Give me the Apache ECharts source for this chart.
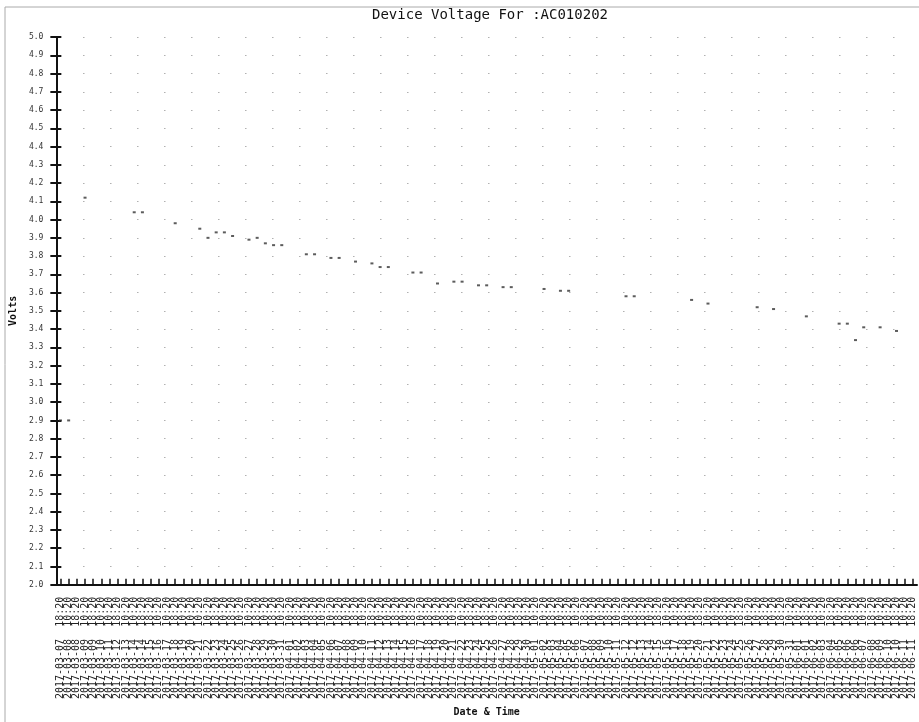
<!DOCTYPE html>
<html>
<head>
<meta charset="utf-8">
<title>Device Voltage For :AC010202</title>
<script src="https://cdn.jsdelivr.net/npm/echarts@6/dist/echarts.min.js"></script>
<style>
    html, body { margin: 0; padding: 0; background: #fff; }
    #main { width: 919px; height: 722px; }
</style>
</head>
<body>
<div id="main"></div>
<script>
// x轴时间标签
var categories = [
    '2017-03-07 18:20', '2017-03-08 10:20', '2017-03-08 18:20', '2017-03-09 10:20', '2017-03-09 18:20',
    '2017-03-10 10:20', '2017-03-11 10:20', '2017-03-12 18:20', '2017-03-13 10:20', '2017-03-14 10:20',
    '2017-03-14 18:20', '2017-03-15 18:20', '2017-03-16 10:20', '2017-03-17 10:20', '2017-03-18 18:20',
    '2017-03-19 10:20', '2017-03-20 10:20', '2017-03-21 10:20', '2017-03-22 10:20', '2017-03-23 18:20',
    '2017-03-24 10:20', '2017-03-25 18:20', '2017-03-26 10:20', '2017-03-27 10:20', '2017-03-28 18:20',
    '2017-03-29 10:20', '2017-03-30 18:20', '2017-03-31 10:20', '2017-04-01 10:20', '2017-04-02 18:20',
    '2017-04-03 10:20', '2017-04-04 18:20', '2017-04-05 10:20', '2017-04-06 10:20', '2017-04-07 18:20',
    '2017-04-08 10:20', '2017-04-09 18:20', '2017-04-10 10:20', '2017-04-11 18:20', '2017-04-12 10:20',
    '2017-04-13 10:20', '2017-04-14 18:20', '2017-04-15 10:20', '2017-04-16 18:20', '2017-04-17 10:20',
    '2017-04-18 18:20', '2017-04-19 10:20', '2017-04-20 18:20', '2017-04-21 10:20', '2017-04-22 10:20',
    '2017-04-23 18:20', '2017-04-24 10:20', '2017-04-25 18:20', '2017-04-26 10:20', '2017-04-27 18:20',
    '2017-04-28 10:20', '2017-04-29 18:20', '2017-04-30 10:20', '2017-05-01 10:20', '2017-05-02 10:20',
    '2017-05-03 18:20', '2017-05-04 10:20', '2017-05-05 18:20', '2017-05-06 10:20', '2017-05-07 18:20',
    '2017-05-08 10:20', '2017-05-09 10:20', '2017-05-10 18:20', '2017-05-11 10:20', '2017-05-12 10:20',
    '2017-05-12 18:20', '2017-05-13 18:20', '2017-05-14 10:20', '2017-05-15 18:20', '2017-05-16 10:20',
    '2017-05-17 10:20', '2017-05-18 18:20', '2017-05-19 10:20', '2017-05-20 18:20', '2017-05-21 10:20',
    '2017-05-22 10:20', '2017-05-23 18:20', '2017-05-24 10:20', '2017-05-25 18:20', '2017-05-26 10:20',
    '2017-05-27 10:20', '2017-05-28 18:20', '2017-05-29 10:20', '2017-05-30 18:20', '2017-05-31 10:20',
    '2017-06-01 10:20', '2017-06-01 18:20', '2017-06-02 18:20', '2017-06-03 10:20', '2017-06-04 18:20',
    '2017-06-05 10:20', '2017-06-06 10:20', '2017-06-06 18:20', '2017-06-07 10:20', '2017-06-08 18:20',
    '2017-06-09 10:20', '2017-06-10 10:20', '2017-06-10 18:20', '2017-06-11 10:20', '2017-06-11 18:20'
];

// 电压读数, '-' 表示图上没有点
var volts = [
    2.90, 2.90, '-', 4.12, '-', '-', '-', '-', '-', 4.04,
    4.04, '-', '-', '-', 3.98, '-', '-', 3.95, 3.90, 3.93,
    3.93, 3.91, '-', 3.89, 3.90, 3.87, 3.86, 3.86, '-', '-',
    3.81, 3.81, '-', 3.79, 3.79, '-', 3.77, '-', 3.76, 3.74,
    3.74, '-', '-', 3.71, 3.71, '-', 3.65, '-', 3.66, 3.66,
    '-', 3.64, 3.64, '-', 3.63, 3.63, '-', '-', '-', 3.62,
    '-', 3.61, 3.61, '-', '-', '-', '-', '-', '-', 3.58,
    3.58, '-', '-', '-', '-', '-', '-', 3.56, '-', 3.54,
    '-', '-', '-', '-', '-', 3.52, '-', 3.51, '-', '-',
    '-', 3.47, '-', '-', '-', 3.43, 3.43, 3.34, 3.41, '-',
    3.41, '-', 3.39, '-', '-'
];

var yMin = 2.0;
var yMax = 5.0;
var yStep = 0.1;

var mono = '"DejaVu Sans Mono", "Liberation Mono", monospace';

var myChart = echarts.init(document.getElementById('main'));

var option = {
    backgroundColor: '#fff',
    animation: false,
    title: {
        text: 'Device Voltage For :AC010202',
        left: 367,
        top: 3,
        textStyle: { fontFamily: mono, fontSize: 14, fontWeight: 'normal', color: '#111' }
    },
    // 扫描件的页边框
    graphic: [
        { type: 'line', shape: { x1: 5, y1: 7, x2: 919, y2: 7 }, style: { stroke: '#aaa', lineWidth: 1 } },
        { type: 'line', shape: { x1: 5, y1: 7, x2: 5, y2: 722 }, style: { stroke: '#aaa', lineWidth: 1 } }
    ],
    grid: {
        left: 56,
        right: 2,
        top: 37,
        bottom: 136
    },
    xAxis: [{
        type: 'category',
        data: categories,
        boundaryGap: true,
        name: 'Date & Time',
        nameLocation: 'middle',
        nameGap: 120,
        nameTextStyle: { fontFamily: mono, fontSize: 10, fontWeight: 'bold', color: '#111' },
        axisLine: { lineStyle: { color: '#111', width: 2 } },
        axisTick: { alignWithLabel: true, interval: 0, length: 6, lineStyle: { color: '#111', width: 1.5 } },
        axisLabel: {
            interval: 0,
            rotate: 90,
            margin: 12,
            fontFamily: mono,
            fontSize: 10,
            color: '#222',
            formatter: function (v) { return v.replace(' ', '  '); }
        },
        splitLine: { show: false }
    }, {
        // 轴线内侧的刻度
        type: 'category',
        show: true,
        data: categories,
        position: 'bottom',
        offset: 0,
        boundaryGap: true,
        axisLine: { show: true, lineStyle: { color: 'rgba(0,0,0,0)' } },
        axisTick: { show: true, inside: true, alignWithLabel: true, interval: 0, length: 6, lineStyle: { color: '#111', width: 1.5 } },
        axisLabel: { show: false },
        splitLine: { show: false }
    }],
    yAxis: [{
        type: 'value',
        min: yMin,
        max: yMax,
        interval: yStep,
        name: 'Volts',
        nameLocation: 'middle',
        nameGap: 24,
        nameTextStyle: { fontFamily: mono, fontSize: 10, fontWeight: 'bold', color: '#111' },
        axisLine: { show: true, lineStyle: { color: '#111', width: 2 } },
        axisTick: { show: true, length: 6, lineStyle: { color: '#111', width: 2 } },
        axisLabel: {
            margin: 13,
            fontFamily: mono,
            fontSize: 8,
            color: '#333',
            formatter: function (v) { return v.toFixed(1); }
        },
        splitLine: { show: true, lineStyle: { color: '#888', width: 1, type: [1, 26] } }
    }, {
        type: 'value',
        min: yMin,
        max: yMax,
        interval: yStep,
        position: 'left',
        axisLine: { show: true, lineStyle: { color: 'rgba(0,0,0,0)' } },
        axisTick: { show: true, inside: true, length: 5, lineStyle: { color: '#111', width: 2 } },
        axisLabel: { show: false },
        splitLine: { show: false }
    }],
    series: [{
        name: 'Volts',
        type: 'scatter',
        xAxisIndex: 0,
        yAxisIndex: 0,
        symbol: 'rect',
        symbolSize: [3, 2],
        itemStyle: { color: '#333' },
        data: volts
    }, {
        // 挂在内侧刻度轴上, 不画任何点
        name: 'ticks',
        type: 'scatter',
        xAxisIndex: 1,
        yAxisIndex: 1,
        silent: true,
        symbolSize: 0,
        data: []
    }]
};

myChart.setOption(option);
</script>
</body>
</html>
